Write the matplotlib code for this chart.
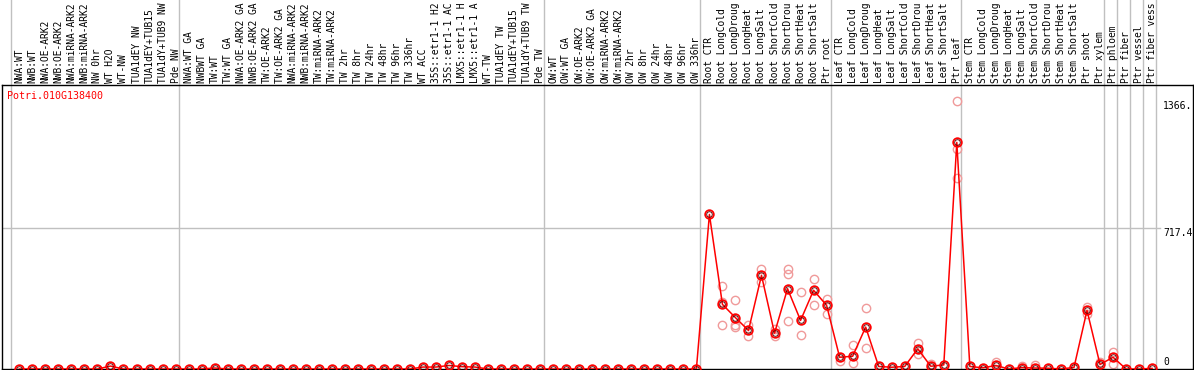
import matplotlib
matplotlib.use("Agg")
import matplotlib.pyplot as plt
import matplotlib.transforms as mtransforms

# sample labels, grouped as in the reference (the reference shows at most 14 characters)
group_labels = [
    ["NWA:WT", "NWB:WT", "NWA:OE-ARK2", "NWB:OE-ARK2", "NWA:miRNA-ARK2", "NWB:miRNA-ARK2",
     "NW 0hr", "WT H2O", "WT-NW", "TUA1dEY NW", "TUA1dEY+TUB15", "TUA1dY+TUB9 NW", "Pde NW"],
    ["NWA:WT GA", "NWBWT GA", "TW:WT", "TW:WT GA", "NWA:OE-ARK2 GA", "NWB:OE-ARK2 GA",
     "TW:OE-ARK2", "TW:OE-ARK2 GA", "NWA:miRNA-ARK2", "NWB:miRNA-ARK2", "TW:miRNA-ARK2",
     "TW:miRNA-ARK2", "TW 2hr", "TW 8hr", "TW 24hr", "TW 48hr", "TW 96hr", "TW 336hr", "WT ACC",
     "35S::etr1-1 H2", "35S::etr1-1 AC", "LMX5::etr1-1 H", "LMX5::etr1-1 A", "WT-TW",
     "TUA1dEY TW", "TUA1dEY+TUB15", "TUA1dY+TUB9 TW", "Pde TW"],
    ["OW:WT", "OW:WT GA", "OW:OE-ARK2", "OW:OE-ARK2 GA", "OW:miRNA-ARK2", "OW:miRNA-ARK2",
     "OW 2hr", "OW 8hr", "OW 24hr", "OW 48hr", "OW 96hr", "OW 336hr"],
    ["Root CTR", "Root LongCold", "Root LongDroug", "Root LongHeat", "Root LongSalt",
     "Root ShortCold", "Root ShortDrou", "Root ShortHeat", "Root ShortSalt", "Ptr root"],
    ["Leaf CTR", "Leaf LongCold", "Leaf LongDroug", "Leaf LongHeat", "Leaf LongSalt",
     "Leaf ShortCold", "Leaf ShortDrou", "Leaf ShortHeat", "Leaf ShortSalt", "Ptr leaf"],
    ["Stem CTR", "Stem LongCold", "Stem LongDroug", "Stem LongHeat", "Stem LongSalt",
     "Stem ShortCold", "Stem ShortDrou", "Stem ShortHeat", "Stem ShortSalt", "Ptr shoot",
     "Ptr xylem"],
    ["Ptr phloem"],
    ["Ptr fiber"],
    ["Ptr vessel"],
    ["Ptr fiber vess"],
]

# mean expression per sample
means = [
    0, 0, 0, 0, 0, 0, 0, 15, 0, 0, 0, 0, 0,
    0, 0, 5, 0, 0, 0, 0, 0, 0, 0, 0, 0, 0, 0, 0, 0, 0, 0, 10, 10, 18, 12, 10, 0, 0, 0, 0, 0,
    0, 0, 0, 0, 0, 0, 0, 0, 0, 0, 0, 0,
    789, 330, 262, 197, 478, 183, 410, 248, 402, 325,
    60, 65, 214, 13, 9, 13, 103, 14, 21, 1157,
    13, 6, 18, 0, 7, 5, 4, 0, 8, 299, 23,
    60, 0, 0, 3,
]

# individual replicates (sample index, value)
rep_idx = [54, 54, 54, 55, 55, 55, 56, 56, 57, 57, 58, 58, 59, 59, 59, 60, 60, 61, 61, 62, 62,
           63, 64, 64, 65, 65, 69, 69, 70, 72, 72, 72, 75, 77, 78, 82, 82, 83, 84, 84]
rep_val = [422, 342, 223, 350, 223, 214, 223, 171, 509, 444, 206, 166, 509, 487, 245, 393, 176,
           461, 325, 356, 282, 43, 125, 30, 311, 108, 132, 78, 27, 1366.5, 1123, 973, 35, 13, 18,
           316, 282, 35, 86, 23]

gene = "Potri.010G138400"
tick_vals = [0, 717.4, 1366.5]
tick_text = ["0", "717.4", "1366."]

labels = [lab for g in group_labels for lab in g]
xs = list(range(len(labels)))

W, H = 1194, 370
fig = plt.figure(figsize=(W / 100, H / 100), dpi=100)
ax_top, ax_bot = 85, 369
ax = fig.add_axes([2 / W, (H - ax_bot) / H, (1193 - 2) / W, (ax_bot - ax_top) / H])
ax.set_xlim(-1.33, 90.14)
ax.set_ylim(0, 1450)
ax.set_xticks([])
ax.set_yticks([])
for s in ax.spines.values():
    s.set_color("black")
    s.set_linewidth(1)

mono = "DejaVu Sans Mono"
trans = mtransforms.blended_transform_factory(ax.transData, ax.transAxes)
top_ext = 1 + ax_top / (ax_bot - ax_top)

# group separators, running up through the label area
bounds = [-0.66]
n = 0
for g in group_labels:
    n += len(g)
    bounds.append(n - 1 + 0.3)
for b in bounds:
    ax.plot([b, b], [0, top_ext], transform=trans, color="#c0c0c0", lw=1,
            clip_on=False, zorder=0.5)

# grid line at the middle tick
ax.plot([-1.33, 87.6], [717.4, 717.4], color="#c0c0c0", lw=1, zorder=0.5)

# sample labels
for x, lab in zip(xs, labels):
    ax.text(x, 1 + 2 / (ax_bot - ax_top), lab, transform=trans, rotation=90,
            ha="center", va="bottom", family=mono, fontsize=6.9, color="black")

# replicates, mean line, mean markers
ax.plot(rep_idx, rep_val, ls="none", marker="o", ms=6, mfc="none", mec="#f09a9a", mew=1,
        zorder=2)
ax.plot(xs, means, color="red", lw=1.1, zorder=3)
ax.plot(xs, means, ls="none", marker="o", ms=6.2, mfc="none", mec="red", mew=1.3, zorder=4)
ax.plot(xs, means, ls="none", marker="o", ms=4, mfc="none", mec="#500000", mew=0.6,
        zorder=5)

# value scale on the right, inside the plot
tx = 87.84
ax.text(tx, tick_vals[2], tick_text[2], ha="left", va="top", family=mono, fontsize=7)
ax.text(tx, tick_vals[1], tick_text[1], ha="left", va="top", family=mono, fontsize=7)
ax.text(tx, tick_vals[0] + 8, tick_text[0], ha="left", va="bottom", family=mono, fontsize=7)

fig.text(7 / W, 1 - 91 / H, gene, color="red", family=mono, fontsize=7.2, va="top", ha="left")

fig.savefig("out.png", dpi=100)
